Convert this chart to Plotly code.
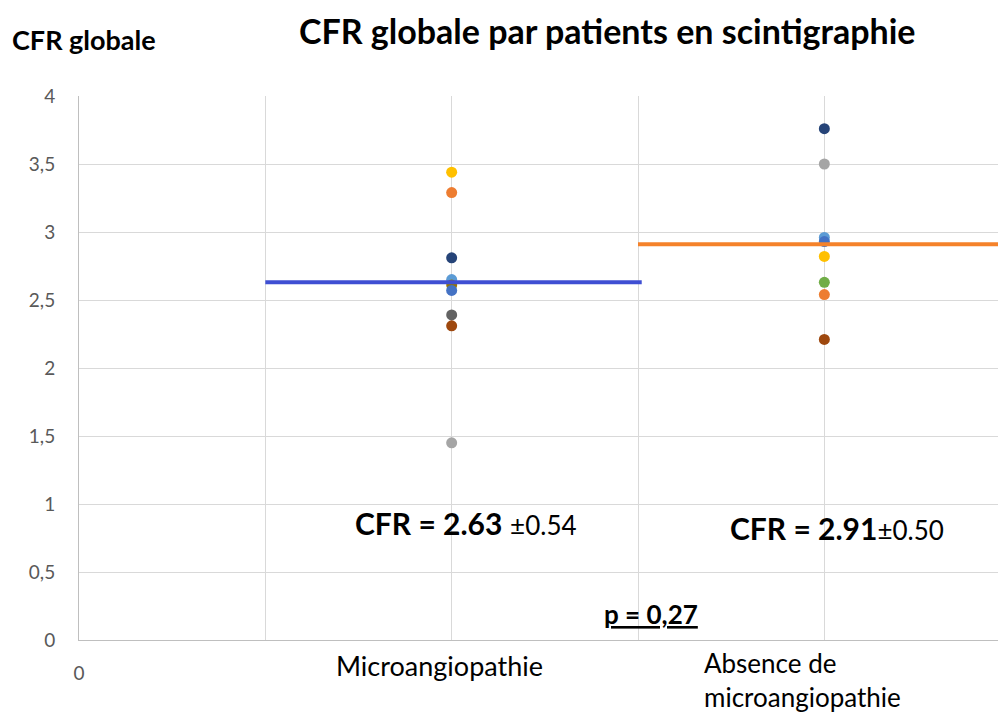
import plotly.graph_objects as go

# CFR values per patient, two groups
micro_vals = [3.44, 3.29, 2.81, 2.65, 2.61, 2.57, 2.39, 2.31, 1.45]
micro_colors = ["#FFC000", "#ED7D31", "#264478", "#5B9BD5", "#997300",
                "#4472C4", "#636363", "#9E480E", "#A5A5A5"]
absence_vals = [3.76, 3.50, 2.96, 2.93, 2.82, 2.63, 2.54, 2.21]
absence_colors = ["#264478", "#A5A5A5", "#5B9BD5", "#4472C4", "#FFC000",
                  "#70AD47", "#ED7D31", "#9E480E"]

group_x = [1, 2]
group_names = ["Microangiopathie", "Absence de<br>microangiopathie"]
group_means = [2.63, 2.91]
group_sd = [0.54, 0.50]
p_value = "0,27"

y_ticks = [0, 0.5, 1, 1.5, 2, 2.5, 3, 3.5, 4]
x_max = 2.466

FONT = "Lato"

fig = go.Figure()

for gx, vals, cols in [(group_x[0], micro_vals, micro_colors),
                       (group_x[1], absence_vals, absence_colors)]:
    fig.add_trace(go.Scatter(
        x=[gx] * len(vals), y=vals, mode="markers",
        marker=dict(size=11, color=cols, line=dict(width=0)),
        showlegend=False, cliponaxis=False,
    ))

# mean lines
fig.add_trace(go.Scatter(
    x=[0.5, 1.51], y=[group_means[0]] * 2, mode="lines",
    line=dict(color="#3F4FD3", width=4), showlegend=False))
fig.add_trace(go.Scatter(
    x=[1.5, x_max], y=[group_means[1]] * 2, mode="lines",
    line=dict(color="#F5822A", width=4), showlegend=False))

ann = []
ann.append(dict(text="<b>CFR globale par patients en scintigraphie</b>",
                x=0.5756, y=1.121, xref="paper", yref="paper", yanchor="middle",
                showarrow=False,
                font=dict(family=FONT, size=34, color="#000000")))
ann.append(dict(text="<b>CFR globale</b>", x=-0.0751, y=1.103,
                xref="paper", yref="paper", xanchor="left", yanchor="middle",
                showarrow=False,
                font=dict(family=FONT, size=27, color="#000000")))
for xpos, ypos, m, s, sep in [(0.735, 0.86, group_means[0], group_sd[0], " "),
                              (1.742, 0.82, group_means[1], group_sd[1], "")]:
    ann.append(dict(
        text=f"<b>CFR = {m:.2f}</b>{sep}<span style='font-size:26px'>\u00b1{s:.2f}</span>",
        x=xpos, y=ypos, xref="x", yref="y", xanchor="left", yanchor="middle",
        showarrow=False,
        font=dict(family=FONT, size=30, color="#000000")))
ann.append(dict(text=f"<b>p = {p_value}</b>", x=1.404, y=0.19, xref="x", yref="y",
                xanchor="left", yanchor="middle", showarrow=False,
                font=dict(family=FONT, size=26, color="#000000", lineposition="under")))
ann.append(dict(text=group_names[0], x=0.3928, y=-0.046, xref="paper", yref="paper",
                yanchor="middle", showarrow=False,
                font=dict(family=FONT, size=27, color="#000000")))
ann.append(dict(text=group_names[1], x=0.6779, y=-0.0735, xref="paper", yref="paper",
                xanchor="left", yanchor="middle", align="left", showarrow=False,
                font=dict(family=FONT, size=26, color="#000000")))

fig.update_layout(
    width=998, height=713,
    margin=dict(l=79, r=0, t=96, b=73),
    plot_bgcolor="#FFFFFF", paper_bgcolor="#FFFFFF",
    separators=", ",
    annotations=ann,
)
fig.update_xaxes(
    range=[0, x_max], tickvals=[0, 0.5, 1, 1.5, 2, 2.5],
    ticktext=["0", "", "", "", "", ""],
    showgrid=True, gridcolor="#D9D9D9", gridwidth=1,
    showline=True, linecolor="#BFBFBF", linewidth=1, zeroline=False,
    ticks="", ticklabelstandoff=16,
    tickfont=dict(family=FONT, size=19, color="#595959"),
)
fig.update_yaxes(
    range=[0, 4], tickvals=y_ticks,
    showgrid=True, gridcolor="#D9D9D9", gridwidth=1,
    showline=True, linecolor="#BFBFBF", linewidth=1, zeroline=False,
    ticks="", ticklabelstandoff=19,
    tickfont=dict(family=FONT, size=19, color="#595959"),
)

fig.write_html("out.html")
